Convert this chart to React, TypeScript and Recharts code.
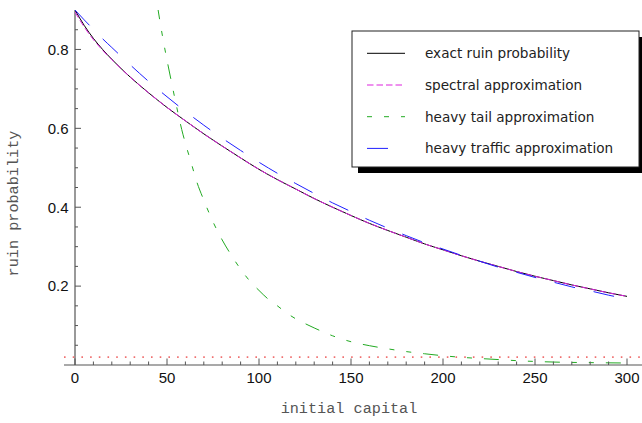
import { Label, Line, LineChart, ReferenceLine, XAxis, YAxis } from "recharts";

// initial capital grid for the smooth curves (denser near 0 where they bend most)
const capital = [
  0, 5, 10, 15, 20, 30, 40, 50, 60, 70, 80, 90, 100, 110, 120, 130, 140, 150, 160,
  170, 180, 190, 200, 210, 220, 230, 240, 250, 260, 270, 280, 290, 300,
];

const exactRuin = [
  0.9, 0.861, 0.828, 0.8, 0.775, 0.73, 0.69, 0.653, 0.619, 0.586, 0.555, 0.525,
  0.496, 0.47, 0.446, 0.422, 0.4, 0.379, 0.359, 0.341, 0.324, 0.307, 0.292, 0.277,
  0.263, 0.25, 0.237, 0.225, 0.214, 0.203, 0.193, 0.183, 0.174,
];

const spectralApprox = [
  0.895, 0.857, 0.825, 0.798, 0.774, 0.73, 0.69, 0.653, 0.619, 0.586, 0.555, 0.525,
  0.496, 0.47, 0.446, 0.422, 0.4, 0.379, 0.359, 0.341, 0.324, 0.307, 0.292, 0.277,
  0.263, 0.25, 0.237, 0.225, 0.214, 0.203, 0.193, 0.183, 0.174,
];

const trafficApprox = [
  0.9, 0.875, 0.851, 0.827, 0.805, 0.761, 0.719, 0.68, 0.643, 0.608, 0.575, 0.544,
  0.514, 0.486, 0.46, 0.435, 0.411, 0.389, 0.367, 0.347, 0.328, 0.31, 0.294, 0.278,
  0.263, 0.248, 0.235, 0.222, 0.21, 0.198, 0.188, 0.177, 0.168,
];

// heavy tail curve only enters the plot near u = 45, so it gets its own grid
const tailCapital = [
  42, 45, 48, 50, 52, 55, 58, 60, 63, 66, 70, 75, 80, 85, 90, 95, 100, 105, 110,
  115, 120, 125, 130, 140, 150, 160, 170, 180, 190, 200, 210, 220, 230, 240, 250,
  260, 270, 280, 290, 300,
];

const tailApprox = [
  1.0, 0.905, 0.822, 0.773, 0.727, 0.66, 0.597, 0.562, 0.515, 0.467, 0.418, 0.363,
  0.317, 0.278, 0.243, 0.213, 0.189, 0.167, 0.15, 0.132, 0.117, 0.105, 0.094,
  0.074, 0.059, 0.049, 0.041, 0.034, 0.0285, 0.0235, 0.0195, 0.0165, 0.0138,
  0.011, 0.009, 0.0075, 0.0066, 0.006, 0.0055, 0.005,
];

const levelLine = 0.02;

const xTicks = [
  0, 10, 20, 30, 40, 50, 60, 70, 80, 90, 100, 110, 120, 130, 140, 150, 160, 170,
  180, 190, 200, 210, 220, 230, 240, 250, 260, 270, 280, 290, 300,
];
const yTicks = [
  0.05, 0.1, 0.15, 0.2, 0.25, 0.3, 0.35, 0.4, 0.45, 0.5, 0.55, 0.6, 0.65, 0.7,
  0.75, 0.8, 0.85,
];

const toRows = (xs: number[], ys: number[]) => xs.map((u, i) => ({ u, v: ys[i] }));

const series = [
  { name: "exact ruin probability", color: "#000000", dash: undefined, data: toRows(capital, exactRuin) },
  { name: "spectral approximation", color: "#dd22dd", dash: "6.5 3", data: toRows(capital, spectralApprox) },
  { name: "heavy tail approximation", color: "#22aa22", dash: "5 12 5 12 15 12", data: toRows(tailCapital, tailApprox) },
  { name: "heavy traffic approximation", color: "#1f1fff", dash: "21 19", data: toRows(capital, trafficApprox) },
];

const W = 642;
const H = 423;
const PAD_LEFT = 11;
const axisColor = "#555";
const tickFont = "'Liberation Sans', Arial, sans-serif";
const titleFont = "'Liberation Mono', 'Courier New', monospace";

function CapitalTick(props: any) {
  const { x, y, payload } = props;
  const major = payload.value % 50 === 0;
  return (
    <g>
      <line x1={x} x2={x} y1={y} y2={y - (major ? 6.5 : 3.5)} stroke={axisColor} />
      {major && (
        <text x={x} y={y + 18} textAnchor="middle" fontFamily={tickFont} fontSize={15} fill="#111">
          {payload.value}
        </text>
      )}
    </g>
  );
}

function ProbabilityTick(props: any) {
  const { x, y, payload } = props;
  const v = payload.value as number;
  const major = Math.abs(v * 5 - Math.round(v * 5)) < 1e-6;
  const ax = x + PAD_LEFT;
  return (
    <g>
      <line x1={ax} x2={ax + (major ? 6 : 3)} y1={y} y2={y} stroke={axisColor} />
      {major && (
        <text x={ax - 6.5} y={y + 5.3} textAnchor="end" fontFamily={tickFont} fontSize={15} fill="#111">
          {v.toFixed(1)}
        </text>
      )}
    </g>
  );
}

function LegendBox() {
  const left = 352;
  const top = 31;
  const bw = 287;
  const bh = 136;
  return (
    <svg
      width={W}
      height={H}
      style={{ position: "absolute", left: 0, top: 0, pointerEvents: "none" }}
    >
      <rect x={left + 6} y={top + 6} width={bw} height={bh} fill="#000" />
      <rect x={left} y={top} width={bw} height={bh} fill="#fff" stroke="#222" strokeWidth={1} />
      {series.map((s, i) => {
        const cy = top + 22.3 + i * 31.7;
        return (
          <g key={s.name}>
            <line
              x1={left + 15}
              x2={left + 53}
              y1={cy}
              y2={cy}
              stroke={s.color}
              strokeWidth={1}
              strokeDasharray={s.dash}
            />
            <text x={left + 73} y={cy + 5} fontFamily="'DejaVu Sans', Verdana, sans-serif" fontSize={13.6} fill="#222">
              {s.name}
            </text>
          </g>
        );
      })}
    </svg>
  );
}

export default function App() {
  return (
    <div style={{ position: "absolute", left: 0, top: 0, width: W, height: H, background: "#fff" }}>
      <LineChart width={W} height={H} margin={{ top: 10, right: 0, bottom: 0, left: 0 }}>
        <XAxis
          type="number"
          dataKey="u"
          domain={[0, 300]}
          ticks={xTicks}
          interval={0}
          allowDataOverflow
          padding={{ left: PAD_LEFT, right: 15 }}
          height={58}
          tickLine={false}
          tickSize={0}
          tickMargin={0}
          tick={<CapitalTick />}
          axisLine={{ stroke: axisColor, strokeWidth: 1.2 }}
        >
          <Label
            content={(p: any) => (
              <text
                x={p.viewBox.x + p.viewBox.width / 2 - 4}
                y={p.viewBox.y + 48}
                textAnchor="middle"
                fontFamily={titleFont}
                fontSize={15.2}
                fill="#555"
              >
                initial capital
              </text>
            )}
          />
        </XAxis>
        <YAxis
          type="number"
          domain={[0, 0.9]}
          ticks={yTicks}
          interval={0}
          allowDataOverflow
          width={64}
          tickLine={false}
          tickSize={0}
          tickMargin={0}
          axisLine={false}
          tick={<ProbabilityTick />}
        >
          <Label
            content={(p: any) => {
              const cx = p.viewBox.x + 18.3;
              const cy = p.viewBox.y + p.viewBox.height / 2 + 16;
              return (
                <text
                  x={cx}
                  y={cy}
                  transform={`rotate(-90, ${cx}, ${cy})`}
                  textAnchor="middle"
                  fontFamily={titleFont}
                  fontSize={15.2}
                  fill="#555"
                >
                  ruin probability
                </text>
              );
            }}
          />
        </YAxis>
        <ReferenceLine x={0} stroke={axisColor} strokeWidth={1.2} />
        <ReferenceLine
          y={levelLine}
          stroke="#f07070"
          strokeWidth={1.6}
          strokeDasharray="1.6 7.1"
        />
        {series.map((s) => (
          <Line
            key={s.name}
            data={s.data}
            dataKey="v"
            name={s.name}
            type="monotone"
            stroke={s.color}
            strokeWidth={1}
            strokeDasharray={s.dash}
            dot={false}
            activeDot={false}
            isAnimationActive={false}
          />
        ))}
      </LineChart>
      <LegendBox />
    </div>
  );
}
